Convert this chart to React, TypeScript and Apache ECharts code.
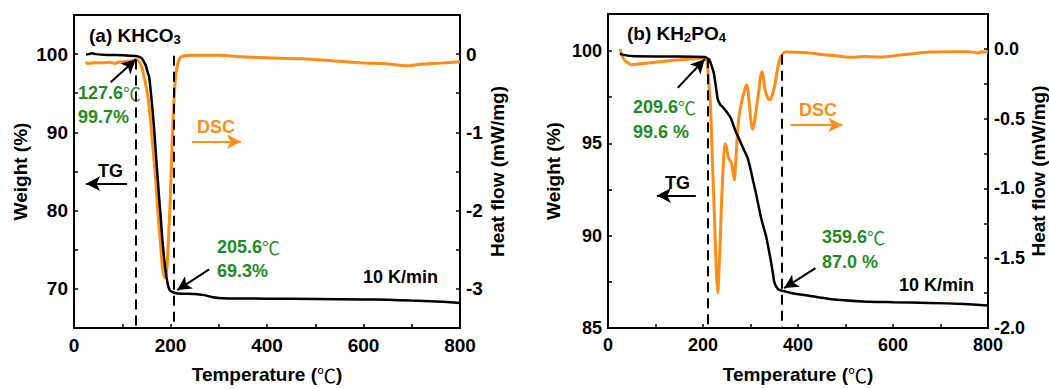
import React, { useEffect, useRef } from 'react';
import * as echarts from 'echarts';

// ---------- Panel (a) KHCO3 ----------
const tgA_T = [25, 30, 37, 45, 70, 100, 128, 135, 140, 145, 149, 153, 155.5, 158, 162, 166, 169, 173, 176, 180, 183, 187, 190, 193, 195.5, 199, 204, 215, 250, 270, 285, 300, 320, 400, 500, 600, 650, 700, 750, 780, 800];
const tgA_W = [99.95, 100.0, 100.1, 100.0, 99.9, 99.85, 99.75, 99.65, 99.5, 99.0, 98.5, 97.6, 97.2, 95.9, 93.4, 90.5, 87.9, 84.5, 82.0, 78.9, 76.4, 73.8, 72.2, 71.0, 70.3, 69.8, 69.6, 69.4, 69.35, 69.2, 68.95, 68.82, 68.78, 68.75, 68.7, 68.65, 68.6, 68.5, 68.4, 68.3, 68.2];

const dscA_T = [25, 28, 35, 45, 60, 75, 85, 95, 110, 120, 127, 133, 138, 142, 145, 150, 155, 160, 165, 169, 173, 176, 180, 183, 186, 188.5, 191, 193, 195, 197, 199, 201.5, 203.8, 206, 208.6, 211, 214, 218, 221, 230, 240, 300, 350, 400, 475, 534, 600, 640, 690, 717, 760, 800];
const dscA_H = [-0.1, -0.12, -0.115, -0.11, -0.11, -0.105, -0.12, -0.1, -0.095, -0.085, -0.07, -0.08, -0.13, -0.2, -0.28, -0.43, -0.63, -0.95, -1.3, -1.59, -1.93, -2.19, -2.48, -2.7, -2.82, -2.86, -2.82, -2.7, -2.45, -2.2, -1.93, -1.5, -1.08, -0.75, -0.45, -0.27, -0.15, -0.07, -0.04, -0.02, -0.013, -0.013, -0.035, -0.047, -0.06, -0.085, -0.115, -0.12, -0.149, -0.13, -0.115, -0.098];

// ---------- Panel (b) KH2PO4 ----------
const tgB_T = [25, 30, 49, 100, 150, 203, 209, 213.5, 218, 222.6, 227, 231, 236, 241.5, 250, 259, 265, 269.5, 275, 280, 287, 294, 301, 306, 311.5, 317, 322, 327, 332.5, 338, 343, 347, 350, 355, 360.5, 370, 385, 420, 466, 536, 600, 676, 750, 800];
const tgB_W = [99.85, 99.8, 99.72, 99.7, 99.7, 99.67, 99.6, 99.52, 99.2, 98.8, 98.1, 97.4, 97.1, 96.96, 96.7, 96.34, 95.9, 95.6, 95.3, 95.0, 94.6, 94.2, 93.5, 92.9, 92.3, 91.6, 91.0, 90.5, 90.0, 89.3, 88.6, 88.0, 87.5, 87.2, 87.06, 87.0, 86.9, 86.76, 86.57, 86.44, 86.4, 86.36, 86.3, 86.22];

const dscB_T = [25, 27, 30, 35, 42, 49, 60, 70, 100, 140, 180, 203, 206, 208.5, 211, 213, 215.6, 218, 220.5, 223, 225.4, 228, 231, 233.5, 236.6, 239, 241.5, 244, 246.4, 249, 253.4, 257, 260.4, 263, 266, 269, 273, 276, 280, 284, 287, 290, 292.5, 295, 297.5, 301, 304.5, 308, 311.5, 315, 318.5, 321, 324, 327, 330, 334, 338, 341.6, 345, 350, 354, 358.4, 362, 367.5, 375, 381.5, 420, 450, 480, 508, 540, 571, 600, 640, 676, 720, 760, 780, 785, 800];
const dscB_H = [0.0, -0.02, -0.05, -0.082, -0.1, -0.113, -0.11, -0.106, -0.095, -0.082, -0.07, -0.064, -0.07, -0.094, -0.18, -0.28, -0.4, -0.62, -0.87, -1.1, -1.34, -1.58, -1.75, -1.6, -1.34, -1.1, -0.915, -0.75, -0.68, -0.7, -0.775, -0.8, -0.82, -0.88, -0.94, -0.8, -0.587, -0.48, -0.4, -0.34, -0.305, -0.27, -0.258, -0.3, -0.4, -0.52, -0.575, -0.53, -0.446, -0.36, -0.28, -0.2, -0.164, -0.2, -0.28, -0.33, -0.36, -0.364, -0.34, -0.28, -0.2, -0.117, -0.07, -0.035, -0.02, -0.023, -0.028, -0.04, -0.05, -0.06, -0.055, -0.059, -0.05, -0.035, -0.023, -0.02, -0.02, -0.03, -0.02, -0.023];

// ---------- Tick labels / axis ranges ----------
const xTicks = [0, 200, 400, 600, 800];
const weightTicksA = [70, 80, 90, 100];
const heatTicksA = [-3, -2, -1, 0];
const weightTicksB = [85, 90, 95, 100];
const heatTicksB = [-2.0, -1.5, -1.0, -0.5, 0.0];

// ---------- Annotation values ----------
const onsetA = [128, 99.3];
const endA = [207, 99.8];
const onsetB = [209.6, 99.6];
const endB = [366, 99.8];

const ORANGE = '#FF8C14';
const GREEN = '#1E8C1E';
const FONT = 'Arial, "Liberation Sans", "Noto Sans CJK SC", sans-serif';
const CJK = '"Noto Sans CJK SC", sans-serif';

const zip = (a: number[], b: number[]) => a.map((v, i) => [v, b[i]]);
const has = (arr: number[], v: number) => arr.some((t) => Math.abs(t - v) < 1e-6);

const txt = (text: string, x: number, y: number, color: string, size = 18) => ({
  type: 'text',
  x,
  y,
  silent: true,
  style: {
    text,
    fill: color,
    fontSize: size,
    fontWeight: 'bold',
    fontFamily: FONT,
    align: 'left',
    verticalAlign: 'middle',
  },
});

// number + thin full-width ℃ sign
const tempTxt = (num: string, x: number, y: number) => ({
  type: 'text',
  x,
  y,
  silent: true,
  style: {
    text: `{n|${num}}{c|℃}`,
    align: 'left',
    verticalAlign: 'middle',
    rich: {
      n: { fontSize: 18, fontWeight: 'bold', fontFamily: FONT, fill: GREEN, lineHeight: 22 },
      c: { fontSize: 18, fontWeight: 'normal', fontFamily: CJK, fill: GREEN, lineHeight: 22 },
    },
  },
});

const richTitle = (text: string, x: number, y: number) => ({
  type: 'text',
  x,
  y,
  silent: true,
  style: {
    text,
    align: 'left',
    verticalAlign: 'middle',
    rich: {
      m: { fontSize: 19, fontWeight: 'bold', fontFamily: FONT, fill: '#000', lineHeight: 22 },
      s: { fontSize: 13, fontWeight: 'bold', fontFamily: FONT, fill: '#000', lineHeight: 14, verticalAlign: 'bottom' },
    },
  },
});

const xAxisCfg = (gridIndex: number, labelSize: number) => ({
  type: 'value',
  gridIndex,
  min: 0,
  max: 800,
  interval: 100,
  name: '{t|Temperature (}{c|℃}{t|)}',
  nameLocation: 'middle',
  nameGap: 37,
  nameTextStyle: {
    fontSize: 19,
    fontWeight: 'bold',
    fontFamily: FONT,
    color: '#000',
    rich: {
      t: { fontSize: 19, fontWeight: 'bold', fontFamily: FONT, color: '#000' },
      c: { fontSize: 19, fontWeight: 'normal', fontFamily: CJK, color: '#000' },
    },
  },
  axisLine: { show: true, onZero: false, lineStyle: { color: '#000', width: 2 } },
  axisTick: { show: true, inside: true, length: 4, lineStyle: { color: '#000', width: 1.5 } },
  axisLabel: {
    margin: 8,
    fontSize: labelSize,
    fontWeight: 'bold',
    fontFamily: FONT,
    color: '#000',
    formatter: (v: number) => (has(xTicks, v) ? String(v) : ''),
  },
  splitLine: { show: false },
});

const yAxisCfg = (
  gridIndex: number,
  position: 'left' | 'right',
  min: number,
  max: number,
  interval: number,
  ticks: number[],
  fmt: (v: number) => string,
  name: string,
  nameGap: number,
  labelSize: number
) => ({
  type: 'value',
  gridIndex,
  position,
  min,
  max,
  interval,
  name,
  nameLocation: 'middle',
  nameGap,
  nameRotate: 90,
  nameTextStyle: { fontSize: 19, fontWeight: 'bold', fontFamily: FONT, color: '#000' },
  axisLine: { show: true, onZero: false, lineStyle: { color: '#000', width: 2 } },
  axisTick: { show: true, inside: true, length: 4, lineStyle: { color: '#000', width: 1.5 } },
  axisLabel: {
    margin: 6,
    fontSize: labelSize,
    fontWeight: 'bold',
    fontFamily: FONT,
    color: '#000',
    formatter: (v: number) => (has(ticks, v) ? fmt(v) : ''),
  },
  splitLine: { show: false },
});

const dashed = (x: number, yTop: number, yBottom: number) => [
  { coord: [x, yTop], symbol: 'none' },
  { coord: [x, yBottom], symbol: 'none', lineStyle: { color: '#000', width: 2, type: [10, 6] } },
];

const arrow = (from: number[], to: number[], color = '#000') => [
  { coord: from, symbol: 'none' },
  { coord: to, symbol: 'arrow', symbolSize: [11, 14], lineStyle: { color, width: 2, type: 'solid' }, itemStyle: { color } },
];

export default function App() {
  const ref = useRef<HTMLDivElement>(null);

  useEffect(() => {
    if (!ref.current) return;
    const chart = echarts.init(ref.current, null, { renderer: 'svg' });

    const markLineBase = {
      silent: true,
      animation: false,
      label: { show: false },
      emphasis: { disabled: true },
      lineStyle: { color: '#000', width: 2 },
    };

    const option: any = {
      animation: false,
      backgroundColor: '#fff',
      grid: [
        { left: 74, top: 15, width: 386, height: 315, show: true, borderColor: '#000', borderWidth: 2, backgroundColor: 'transparent' },
        { left: 608, top: 14, width: 381, height: 320, show: true, borderColor: '#000', borderWidth: 2, backgroundColor: 'transparent' },
      ],
      xAxis: [xAxisCfg(0, 19), xAxisCfg(1, 18)],
      yAxis: [
        yAxisCfg(0, 'left', 65, 105, 5, weightTicksA, (v) => String(v), 'Weight (%)', 44, 19),
        yAxisCfg(0, 'right', -3.5, 0.5, 0.5, heatTicksA, (v) => String(v), 'Heat flow (mW/mg)', 28, 19),
        yAxisCfg(1, 'left', 85, 102, 2.5, weightTicksB, (v) => String(v), 'Weight (%)', 45, 18),
        yAxisCfg(1, 'right', -2, 0.25, 0.25, heatTicksB, (v) => v.toFixed(1), 'Heat flow (mW/mg)', 41, 18),
      ],
      series: [
        {
          type: 'line',
          name: 'DSC a',
          xAxisIndex: 0,
          yAxisIndex: 1,
          data: zip(dscA_T, dscA_H),
          showSymbol: false,
          smooth: 0.25,
          lineStyle: { color: ORANGE, width: 3 },
          itemStyle: { color: ORANGE },
          z: 2,
        },
        {
          type: 'line',
          name: 'TG a',
          xAxisIndex: 0,
          yAxisIndex: 0,
          data: zip(tgA_T, tgA_W),
          showSymbol: false,
          smooth: 0.25,
          lineStyle: { color: '#000', width: 2.5 },
          itemStyle: { color: '#000' },
          z: 3,
          markLine: {
            ...markLineBase,
            data: [
              dashed(onsetA[0], onsetA[1], 65),
              dashed(endA[0], endA[1], 65),
              arrow([76, 96.4], [128, 99.3]),
              arrow([280, 72.5], [214, 69.85]),
              arrow([244.6, 88.8], [346, 88.8], ORANGE),
              arrow([110, 83.44], [25, 83.44]),
            ],
          },
        },
        {
          type: 'line',
          name: 'DSC b',
          xAxisIndex: 1,
          yAxisIndex: 3,
          data: zip(dscB_T, dscB_H),
          showSymbol: false,
          smooth: 0.25,
          lineStyle: { color: ORANGE, width: 3 },
          itemStyle: { color: ORANGE },
          z: 2,
        },
        {
          type: 'line',
          name: 'TG b',
          xAxisIndex: 1,
          yAxisIndex: 2,
          data: zip(tgB_T, tgB_W),
          showSymbol: false,
          smooth: 0.25,
          lineStyle: { color: '#000', width: 2.5 },
          itemStyle: { color: '#000' },
          z: 3,
          markLine: {
            ...markLineBase,
            data: [
              dashed(onsetB[0], onsetB[1], 85),
              dashed(endB[0], endB[1], 85),
              arrow([147, 98.01], [203.5, 99.55]),
              arrow([436.7, 88.24], [371, 87.16]),
              arrow([384, 95.99], [493.4, 95.99], ORANGE),
              arrow([184.8, 92.17], [102.9, 92.17]),
            ],
          },
        },
      ],
      graphic: [
        richTitle('{m|(a) KHCO}{s|3}', 89, 35),
        tempTxt('127.6', 78, 93),
        txt('99.7%', 78, 117, GREEN),
        tempTxt('205.6', 217, 247),
        txt('69.3%', 217, 271, GREEN),
        txt('10 K/min', 363, 277, '#000'),
        txt('DSC', 197, 127, ORANGE),
        txt('TG', 98, 171, '#000'),
        richTitle('{m|(b) KH}{s|2}{m|PO}{s|4}', 627, 33),
        tempTxt('209.6', 633, 107),
        txt('99.6 %', 633, 132, GREEN),
        tempTxt('359.6', 822, 237),
        txt('87.0 %', 822, 262, GREEN),
        txt('10 K/min', 899, 285, '#000'),
        txt('DSC', 799, 110, ORANGE),
        txt('TG', 665, 183, '#000'),
      ],
    };

    chart.setOption(option);
    return () => chart.dispose();
  }, []);

  return (
    <div
      ref={ref}
      style={{ position: 'fixed', left: 0, top: 0, width: 1049, height: 389, background: '#fff' }}
    />
  );
}
